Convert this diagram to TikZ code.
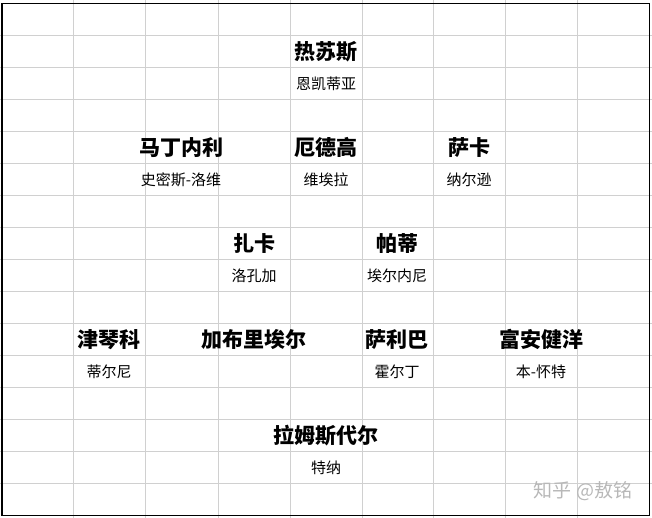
\documentclass[tikz,border=0pt]{standalone}
\usepackage{fontspec}
\newfontfamily\cjk{Noto Sans CJK SC}
\definecolor{gridc}{HTML}{D0D0D0}
\definecolor{wm}{HTML}{B8B8B8}
\tikzset{
  pname/.style={font=\cjk\bfseries\fontsize{21}{23}\selectfont, inner sep=0pt, anchor=center},
  psub/.style={font=\cjk\fontsize{15}{17}\selectfont, inner sep=0pt, anchor=center},
  gridline/.style={draw=gridc, line width=0.8pt},
}
\begin{document}
\begin{tikzpicture}[x=1pt,y=-1pt]
\useasboundingbox[fill=white] (0,0) rectangle (652,518);
% grid
\foreach \x in {73,145,218,290,362,433,505,577}
  \draw[gridline] (\x,0) -- (\x,518);
\foreach \k in {0,...,14}
  \draw[gridline] (0,35+32*\k) -- (652,35+32*\k);
\draw[black, line width=1.2pt] (2,3.5) rectangle (649.5,515.5);
% players
\node[pname] (jesus) at (326,51.5) {热苏斯};
\node[psub] (nketiah) at (326,83.5) {恩凯蒂亚};
\node[pname] (martinelli) at (181,147.5) {马丁内利};
\node[psub] (smithrowe) at (181,179.5) {史密斯-洛维};
\node[pname] (odegaard) at (326,147.5) {厄德高};
\node[psub] (vieira) at (326,179.5) {维埃拉};
\node[pname] (saka) at (469,147.5) {萨卡};
\node[psub] (nelson) at (469,179.5) {纳尔逊};
\node[pname] (xhaka) at (254,243.5) {扎卡};
\node[psub] (lokonga) at (254,275.5) {洛孔加};
\node[pname] (partey) at (397,243.5) {帕蒂};
\node[psub] (elneny) at (397,275.5) {埃尔内尼};
\node[pname] (zinchenko) at (109,339.5) {津琴科};
\node[psub] (tierney) at (109,371.5) {蒂尔尼};
\node[pname] (gabriel) at (254,339.5) {加布里埃尔};
\node[pname] (saliba) at (397,339.5) {萨利巴};
\node[psub] (holding) at (397,371.5) {霍尔丁};
\node[pname] (tomiyasu) at (541,339.5) {富安健洋};
\node[psub] (white) at (541,371.5) {本-怀特};
\node[pname] (ramsdale) at (326,435.5) {拉姆斯代尔};
\node[psub] (turner) at (326,467.5) {特纳};
% watermark
\node[font=\cjk\fontsize{19}{21}\selectfont, text=wm, inner sep=0pt] (wmark) at (583,491) {知乎 @敖铭};
\end{tikzpicture}
\end{document}
